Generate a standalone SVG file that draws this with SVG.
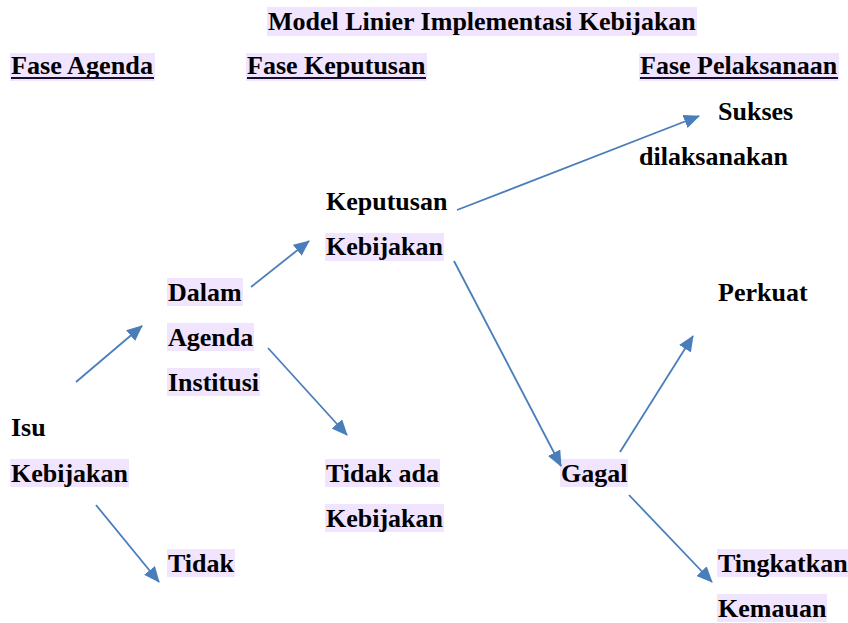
<svg xmlns="http://www.w3.org/2000/svg" width="848" height="623" viewBox="0 0 848 623">
<style>
text{font-family:"Liberation Serif","Times New Roman",serif;font-weight:bold;font-size:26px;fill:#000}
.hl{fill:#F0E4FF}
.ul{stroke:#1a0f2a;stroke-width:2}
.conn line{stroke:#4A7EBB;stroke-width:1.8;fill:none;marker-end:url(#ah)}
</style>
<defs>
<marker id="ah" markerUnits="userSpaceOnUse" markerWidth="16" markerHeight="14" refX="15" refY="7" orient="auto" viewBox="0 0 16 14">
<path d="M0,0 L16,7 L0,14 Z" fill="#4A7EBB"/>
</marker>
</defs>
<rect width="848" height="623" fill="#fff"/>

<g id="title">
<rect class="hl" x="267" y="7" width="430" height="29"/>
<text x="268" y="30">Model Linier Implementasi Kebijakan</text>
</g>
<g id="fase-agenda">
<rect class="hl" x="10" y="53" width="145" height="28"/>
<text x="11" y="74" textLength="142" lengthAdjust="spacingAndGlyphs">Fase Agenda</text>
<line class="ul" x1="11" y1="78" x2="154" y2="78"/>
</g>
<g id="fase-keputusan">
<rect class="hl" x="246" y="53" width="181" height="28"/>
<text x="247" y="74">Fase Keputusan</text>
<line class="ul" x1="247" y1="78" x2="426" y2="78"/>
</g>
<g id="fase-pelaksanaan">
<rect class="hl" x="639" y="53" width="200" height="28"/>
<text x="640" y="74">Fase Pelaksanaan</text>
<line class="ul" x1="640" y1="78" x2="838" y2="78"/>
</g>

<g id="sukses">
<text x="718" y="120">Sukses</text>
<text x="639" y="165">dilaksanakan</text>
</g>
<g id="keputusan">
<text x="326" y="210">Keputusan</text>
<rect class="hl" x="325" y="233" width="119" height="28"/>
<text x="326" y="255">Kebijakan</text>
</g>
<g id="dalam-agenda">
<rect class="hl" x="167" y="278" width="76" height="28"/>
<text x="168" y="301">Dalam</text>
<rect class="hl" x="167" y="323" width="87" height="28"/>
<text x="168" y="346">Agenda</text>
<rect class="hl" x="167" y="368" width="93" height="28"/>
<text x="168" y="391">Institusi</text>
</g>
<g id="perkuat">
<text x="718" y="301">Perkuat</text>
</g>
<g id="isu">
<text x="11" y="436">Isu</text>
<rect class="hl" x="10" y="459" width="119" height="28"/>
<text x="11" y="482">Kebijakan</text>
</g>
<g id="tidak-ada">
<rect class="hl" x="325" y="459" width="115" height="28"/>
<text x="326" y="482" textLength="113">Tidak ada</text>
<rect class="hl" x="325" y="504" width="119" height="28"/>
<text x="326" y="527">Kebijakan</text>
</g>
<g id="gagal">
<rect class="hl" x="560" y="459" width="68" height="28"/>
<text x="561" y="482">Gagal</text>
</g>
<g id="tidak">
<rect class="hl" x="167" y="549" width="68" height="28"/>
<text x="168" y="572">Tidak</text>
</g>
<g id="tingkatkan">
<rect class="hl" x="717" y="549" width="131" height="28"/>
<text x="718" y="572">Tingkatkan</text>
<rect class="hl" x="717" y="594" width="110" height="28"/>
<text x="718" y="617">Kemauan</text>
</g>

<g id="connectors" class="conn">
<line x1="76" y1="382" x2="142" y2="326"/>
<line x1="251" y1="287" x2="309" y2="241"/>
<line x1="268" y1="348" x2="347" y2="435"/>
<line x1="96" y1="505" x2="159" y2="582"/>
<line x1="457" y1="210" x2="699" y2="116"/>
<line x1="454" y1="261" x2="561" y2="466"/>
<line x1="620" y1="452" x2="693" y2="336"/>
<line x1="629" y1="495" x2="712" y2="582"/>
</g>
</svg>
